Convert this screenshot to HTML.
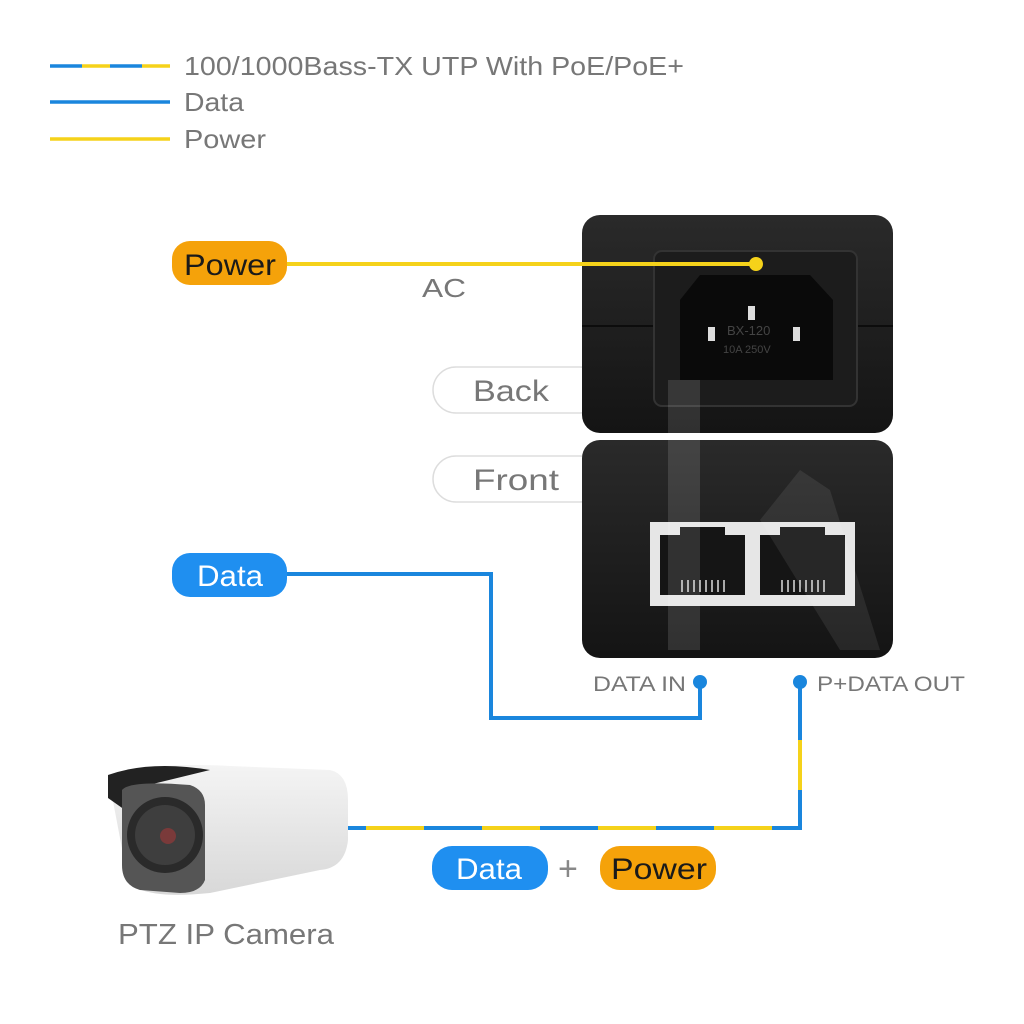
<!DOCTYPE html>
<html><head><meta charset="utf-8"><style>
html,body{margin:0;padding:0;background:#fff}
svg{display:block}
text{font-family:"Liberation Sans",sans-serif}
</style></head><body>
<svg width="1024" height="1024" viewBox="0 0 1024 1024" xmlns="http://www.w3.org/2000/svg">
<defs>
<linearGradient id="dev" x1="0" y1="0" x2="0" y2="1"><stop offset="0" stop-color="#2a2a2a"/><stop offset="1" stop-color="#141414"/></linearGradient>
<linearGradient id="cam" x1="0" y1="0" x2="0" y2="1"><stop offset="0" stop-color="#f4f4f4"/><stop offset="1" stop-color="#d8d8d8"/></linearGradient>
</defs>
<rect width="1024" height="1024" fill="#fff"/>
<!-- legend -->
<g stroke-width="3.5">
<line x1="50" y1="66" x2="82" y2="66" stroke="#1a86dd"/><line x1="82" y1="66" x2="110" y2="66" stroke="#f5d21a"/><line x1="110" y1="66" x2="142" y2="66" stroke="#1a86dd"/><line x1="142" y1="66" x2="170" y2="66" stroke="#f5d21a"/>
<line x1="50" y1="102" x2="170" y2="102" stroke="#1a86dd"/>
<line x1="50" y1="139" x2="170" y2="139" stroke="#f5d21a"/>
</g>
<g fill="#777" font-size="26">
<text x="184" y="75" textLength="500" lengthAdjust="spacingAndGlyphs">100/1000Bass-TX UTP With PoE/PoE+</text>
<text x="184" y="111" textLength="60" lengthAdjust="spacingAndGlyphs">Data</text>
<text x="184" y="148" textLength="82" lengthAdjust="spacingAndGlyphs">Power</text>
</g>
<!-- Back/Front pills -->
<rect x="433" y="367" width="170" height="46" rx="23" fill="#fff" stroke="#ddd" stroke-width="1.5"/>
<rect x="433" y="456" width="170" height="46" rx="23" fill="#fff" stroke="#ddd" stroke-width="1.5"/>
<text x="473" y="401" font-size="30" fill="#777" textLength="76" lengthAdjust="spacingAndGlyphs">Back</text>
<text x="473" y="490" font-size="30" fill="#777" textLength="86" lengthAdjust="spacingAndGlyphs">Front</text>
<!-- device top -->
<rect x="582" y="215" width="311" height="218" rx="18" fill="url(#dev)"/>
<line x1="582" y1="326" x2="893" y2="326" stroke="#0c0c0c" stroke-width="2"/>
<rect x="654" y="251" width="203" height="155" rx="8" fill="#1c1c1c" stroke="#333" stroke-width="2"/>
<path d="M680 300 L700 275 L810 275 L833 300 L833 380 L680 380 Z" fill="#0a0a0a"/>
<rect x="708" y="327" width="7" height="14" fill="#ddd"/><rect x="748" y="306" width="7" height="14" fill="#ddd"/><rect x="793" y="327" width="7" height="14" fill="#ddd"/>
<text x="727" y="335" font-size="13" fill="#444">BX-120</text>
<text x="723" y="353" font-size="11" fill="#444">10A 250V</text>
<!-- device bottom -->
<rect x="582" y="440" width="311" height="218" rx="18" fill="url(#dev)"/>
<rect x="650" y="522" width="205" height="84" fill="#e6e6e6"/>
<rect x="660" y="535" width="85" height="60" fill="#151515"/>
<rect x="760" y="535" width="85" height="60" fill="#151515"/>
<path d="M680 535 L680 527 L725 527 L725 535 Z M780 535 L780 527 L825 527 L825 535 Z" fill="#151515"/>
<g stroke="#aaa" stroke-width="2">
<path d="M682 580v12M688 580v12M694 580v12M700 580v12M706 580v12M712 580v12M718 580v12M724 580v12"/>
<path d="M782 580v12M788 580v12M794 580v12M800 580v12M806 580v12M812 580v12M818 580v12M824 580v12"/>
</g>
<!-- watermark -->
<path d="M668 380 L700 380 L700 650 L668 650 Z" fill="#fff" opacity="0.12"/>
<path d="M760 520 L800 470 L830 490 L880 650 L840 650 Z" fill="#fff" opacity="0.08"/>
<!-- power line -->
<line x1="285" y1="264" x2="756" y2="264" stroke="#f5d21a" stroke-width="4"/>
<circle cx="756" cy="264" r="7" fill="#f5d21a"/>
<rect x="172" y="241" width="115" height="44" rx="18" fill="#f5a20a"/>
<text x="184" y="275" font-size="30" fill="#1a1a1a" textLength="92" lengthAdjust="spacingAndGlyphs">Power</text>
<text x="422" y="297" font-size="26" fill="#777" textLength="44" lengthAdjust="spacingAndGlyphs">AC</text>
<!-- data line -->
<polyline points="285,574 491,574 491,718 700,718 700,682" fill="none" stroke="#1a86dd" stroke-width="4"/>
<circle cx="700" cy="682" r="7" fill="#1a86dd"/>
<rect x="172" y="553" width="115" height="44" rx="18" fill="#1f8ff0"/>
<text x="197" y="586" font-size="30" fill="#fff" textLength="66" lengthAdjust="spacingAndGlyphs">Data</text>
<text x="593" y="691" font-size="21" fill="#777" textLength="93" lengthAdjust="spacingAndGlyphs">DATA IN</text>
<text x="817" y="691" font-size="21" fill="#777" textLength="148" lengthAdjust="spacingAndGlyphs">P+DATA OUT</text>
<!-- poe line -->
<circle cx="800" cy="682" r="7" fill="#1a86dd"/>
<line x1="800" y1="682" x2="800" y2="740" stroke="#1a86dd" stroke-width="4"/>
<line x1="800" y1="740" x2="800" y2="790" stroke="#f5d21a" stroke-width="4"/>
<line x1="800" y1="790" x2="800" y2="830" stroke="#1a86dd" stroke-width="4"/>
<line x1="802" y1="828" x2="345" y2="828" stroke="#1a86dd" stroke-width="4"/>
<line x1="772" y1="828" x2="345" y2="828" stroke="#f5d21a" stroke-width="4" stroke-dasharray="58 58"/>
<!-- camera -->
<path d="M108 775 Q150 762 230 766 L330 770 Q348 774 348 800 L348 840 Q345 868 320 870 L210 893 Q140 900 128 880 Z" fill="url(#cam)"/>
<path d="M108 775 Q150 760 210 770 L128 790 L125 810 L108 798 Z" fill="#222"/>
<path d="M122 790 Q130 780 190 785 Q205 790 205 805 L205 880 Q200 893 180 893 L140 890 Q122 885 122 865 Z" fill="#555"/>
<circle cx="165" cy="835" r="38" fill="#2a2a2a"/>
<circle cx="165" cy="835" r="30" fill="#3e3e3e"/>
<circle cx="168" cy="836" r="8" fill="#7a3a3a"/>
<text x="118" y="944" font-size="29" fill="#777" textLength="216" lengthAdjust="spacingAndGlyphs">PTZ IP Camera</text>
<!-- bottom pills -->
<rect x="432" y="846" width="116" height="44" rx="20" fill="#1f8ff0"/>
<text x="456" y="879" font-size="30" fill="#fff" textLength="66" lengthAdjust="spacingAndGlyphs">Data</text>
<text x="558" y="880" font-size="34" fill="#888">+</text>
<rect x="600" y="846" width="116" height="44" rx="20" fill="#f5a20a"/>
<text x="611" y="879" font-size="30" fill="#1a1a1a" textLength="96" lengthAdjust="spacingAndGlyphs">Power</text>
</svg>
</body></html>
